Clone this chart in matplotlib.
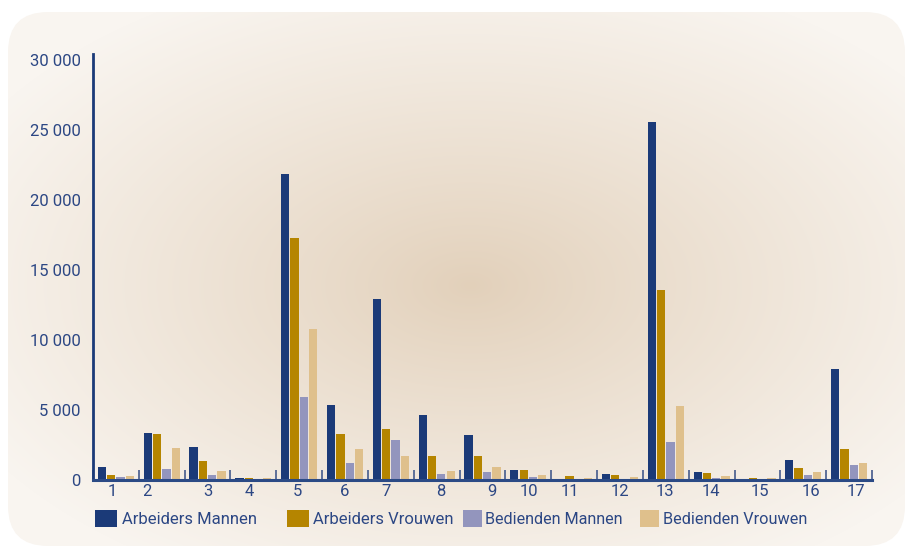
import numpy as np
import matplotlib
matplotlib.use("Agg")
import matplotlib.pyplot as plt
from matplotlib.patches import FancyBboxPatch, Rectangle
from matplotlib import font_manager

# ---------------- data ----------------
categories = [str(i) for i in range(1, 18)]
series_names = ["Arbeiders Mannen", "Arbeiders Vrouwen", "Bedienden Mannen", "Bedienden Vrouwen"]
arbeiders_mannen = [960, 3390, 2390, 150, 21850, 5390, 12960, 4610, 3180, 750, 30, 460, 25540, 540, 30, 1460, 7960]
arbeiders_vrouwen = [390, 3320, 1390, 150, 17320, 3320, 3610, 1680, 1750, 680, 280, 340, 13540, 480, 110, 890, 2250]
bedienden_mannen = [200, 820, 390, 80, 5960, 1250, 2890, 460, 540, 200, 60, 100, 2680, 120, 100, 340, 1040]
bedienden_vrouwen = [270, 2320, 610, 120, 10820, 2180, 1750, 610, 960, 340, 130, 200, 5320, 270, 110, 560, 1180]
yticks = [0, 5000, 10000, 15000, 20000, 25000, 30000]
ytick_labels = ["0", "5 000", "10 000", "15 000", "20 000", "25 000", "30 000"]
# horizontal offsets of the category labels (as in the original layout)
label_offsets = [-0.07, -0.32, 0.01, -0.09, -0.04, 0.0, -0.10, 0.08, 0.21, 0.02, -0.09, 0.01, -0.01, -0.01, 0.06, 0.17, 0.16]

series = [arbeiders_mannen, arbeiders_vrouwen, bedienden_mannen, bedienden_vrouwen]
colors = ["#1b3a78", "#b58500", "#9395bd", "#dfc08c"]
text_color = "#2c4784"

available = {f.name for f in font_manager.fontManager.ttflist}
narrow = "Liberation Sans Narrow" if "Liberation Sans Narrow" in available else "Roboto"
tick_font = "Roboto" if "Roboto" in available else "DejaVu Sans"

W, H = 906, 547
fig = plt.figure(figsize=(W / 100, H / 100), dpi=100)
fig.patch.set_facecolor("white")

# ---------------- background panel with radial gradient ----------------
bg = fig.add_axes([0, 0, 1, 1])
bg.set_xlim(0, W)
bg.set_ylim(H, 0)
bg.axis("off")
yy, xx = np.mgrid[0:H, 0:W]
d = np.sqrt(((xx - 470) / 560.0) ** 2 + ((yy - 285) / 330.0) ** 2)
t = np.clip(d, 0, 1) ** 0.9
center = np.array([226, 208, 186]) / 255.0
edge = np.array([249, 245, 240]) / 255.0
img = center[None, None, :] * (1 - t[..., None]) + edge[None, None, :] * t[..., None]
im = bg.imshow(img, extent=[0, W, H, 0], interpolation="bilinear", zorder=0)
panel = FancyBboxPatch((8, 12), 897, 534, boxstyle="round,pad=0,rounding_size=40",
                       facecolor="none", edgecolor="none", transform=bg.transData)
bg.add_patch(panel)
im.set_clip_path(panel)

# ---------------- main axes ----------------
ax = fig.add_axes([93 / W, 67 / H, 779 / W, 426 / H])
ax.patch.set_alpha(0)
n = len(categories)
x = np.arange(n) + 0.5
bw = 0.18
step = 0.203
for k, (vals, col, name) in enumerate(zip(series, colors, series_names)):
    ax.bar(x + (k - 1.5) * step, vals, width=bw, color=col, label=name, zorder=2)

ax.set_xlim(0, n)
ax.set_ylim(0, 30430)
ax.set_yticks(yticks)
ax.set_yticklabels(ytick_labels, fontfamily=tick_font, fontsize=12, color=text_color)
ax.tick_params(axis="y", length=0, pad=9)

ax.set_xticks(np.arange(0, n + 1))
ax.set_xticklabels([])
ax.tick_params(axis="x", which="major", direction="in", length=7.5, width=1.4, color="#5d6f99")
ax.set_xticks(x + np.array(label_offsets), minor=True)
ax.set_xticklabels(categories, minor=True, fontfamily=tick_font, fontsize=12, color=text_color)
ax.tick_params(axis="x", which="minor", length=0, pad=3)

for s in ["top", "right"]:
    ax.spines[s].set_visible(False)
ax.spines["left"].set_color("#1b3a78")
ax.spines["left"].set_linewidth(2)
ax.spines["bottom"].set_color("#2b4a85")
ax.spines["bottom"].set_linewidth(2.2)
ax.spines["bottom"].set_zorder(3)

# ---------------- legend (manual, in pixel coordinates) ----------------
sq_x = [95, 287, 463, 640]
sq_w = [22, 22, 19, 19]
txt_x = [122, 313, 485, 663]
txt_w = [136, 141, 139, 145]
for k in range(4):
    bg.add_patch(Rectangle((sq_x[k], 510), sq_w[k], 17, facecolor=colors[k], edgecolor="none", zorder=3))
    tx = bg.text(txt_x[k], 519.5, series_names[k], fontfamily=narrow, fontsize=14,
                 color=text_color, va="center", ha="left", zorder=3)
    fig.canvas.draw()
    ext = tx.get_window_extent()
    tx.set_fontsize(14 * txt_w[k] / ext.width)

fig.savefig("out.png", dpi=100, facecolor="white")
